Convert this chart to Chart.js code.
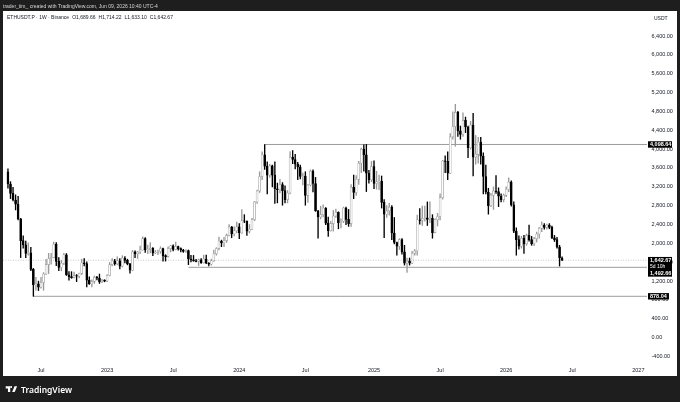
<!DOCTYPE html>
<html>
<head>
<meta charset="utf-8">
<script src="https://cdn.jsdelivr.net/npm/chart.js@4.4.1/dist/chart.umd.min.js"></script>
<style>
  html, body { margin: 0; padding: 0; background: #1e1e1e; }
  #wrap { position: relative; width: 680px; height: 402px; overflow: hidden; }
  #chart { position: absolute; left: 0; top: 0; }
  .txt { position: absolute; white-space: nowrap; font-family: "Liberation Sans", Arial, sans-serif; }
  #title { left: 3px; top: 3px; font-size: 5px; color: #d6d6d6; }
  #legend { left: 7px; top: 14px; font-size: 5px; color: #131722; }
  #legend span { margin-left: 3px; }
  #unit { left: 654px; top: 15px; font-size: 5px; color: #131722; }
  #logo { left: 5px; top: 384px; font-size: 8.5px; color: #ffffff; font-family: "Noto Sans", sans-serif; font-weight: 600; display: flex; align-items: center; }
  #logo svg { margin-right: 3px; }
</style>
</head>
<body>
<div id="wrap">
  <canvas id="chart" width="680" height="402"></canvas>
  <div class="txt" id="title">trader_tim_ created with TradingView.com, Jun 09, 2026 10:40 UTC-4</div>
  <div class="txt" id="legend">ETHUSDT.P · 1W · Binance<span>O1,689.66</span><span>H1,714.22</span><span>L1,633.10</span><span>C1,642.67</span></div>
  <div class="txt" id="unit">USDT</div>
  <div class="txt" id="logo"><svg width="13" height="9" viewBox="0 0 36 28"><path d="M14 22H7V11H0V4h14v18zM28 22h-8l7.5-18h8L28 22zM20 6a3 3 0 1 1-6 0 3 3 0 0 1 6 0z" fill="#fff"/></svg>TradingView</div>
</div>
<script>
// weekly candles, index 0 = week of 2022-04-04
const opens = [
  3521,3260,3060,2920,2830,2520,2060,1970,1790,1800,
  1450,1125,1140,1070,1170,1350,1550,1680,1700,1980,
  1620,1490,1580,1760,1335,1295,1275,1315,1305,1365,
  1590,1570,1220,1140,1195,1280,1265,1185,1220,1200,
  1320,1550,1630,1570,1630,1515,1690,1640,1565,1430,
  1820,1780,1820,1860,2100,1865,1870,1900,1800,1810,
  1830,1890,1740,1720,1890,1950,1870,1935,1890,1860,
  1830,1850,1670,1650,1630,1620,1650,1590,1670,1580,
  1560,1630,1780,1890,2050,2010,2060,2170,2350,2200,
  2270,2350,2220,2480,2470,2260,2300,2500,2880,3110,
  3420,3880,3640,3450,3645,3450,3160,3140,3250,3120,
  2930,3070,3830,3780,3680,3620,3420,3430,3020,3240,
  3530,3270,2690,2560,2610,2750,2430,2270,2420,2580,
  2660,2440,2470,2750,2510,2420,3190,3080,3360,3700,
  4000,3880,3490,3350,3630,3270,3310,3320,2870,2620,
  2690,2770,2220,2020,1940,2080,1820,1580,1620,1580,
  1790,1840,2500,2490,2530,2540,2510,2530,2230,2500,
  2570,2970,3750,3740,3490,4260,4480,4780,4390,4310,
  4610,4470,4030,4510,3830,3890,4150,3850,3420,3090,
  2800,3020,3110,3100,3000,2930,3020,3150,3300,2820,
  2260,2080,1940,2110,1990,2170,2080,1990,2100,2200,
  2320,2390,2340,2390,2340,2120,2080,1920,1689.66
];
const highs = [
  3580,3310,3190,3030,3000,2530,2160,2050,2010,1915,
  1470,1280,1200,1280,1380,1660,1790,1790,2030,2020,
  1700,1640,1790,1785,1400,1400,1390,1340,1370,1665,
  1680,1610,1290,1230,1310,1300,1350,1240,1230,1340,
  1600,1680,1660,1715,1680,1740,1720,1665,1580,1850,
  1840,1830,1945,2140,2125,1965,2015,1910,1850,1860,
  1930,1900,1760,1930,1960,1970,2030,1945,1905,1875,
  1870,1860,1745,1745,1660,1670,1680,1750,1750,1595,
  1665,1860,1910,2135,2070,2130,2200,2400,2360,2350,
  2450,2420,2720,2610,2480,2400,2530,2890,3130,3520,
  3940,4098.64,3730,3680,3660,3730,3280,3360,3290,3220,
  3120,3950,3970,3890,3720,3660,3490,3520,3250,3560,
  3560,3400,2700,2790,2820,2760,2560,2470,2700,2730,
  2670,2520,2770,2770,2720,3250,3450,3440,3740,4020,
  4090,4100,3550,3740,3750,3530,3450,3430,2930,2800,
  2850,2800,2550,2030,2100,2100,1960,1690,1690,1830,
  1870,2600,2740,2790,2790,2880,2880,2610,2520,2640,
  3050,3760,3860,3940,4330,4790,4950,4800,4490,4770,
  4680,4490,4590,4760,4290,4250,4250,3920,3660,3170,
  3060,3200,3440,3180,3050,3050,3200,3390,3330,2880,
  2330,2160,2150,2170,2200,2390,2150,2130,2240,2340,
  2460,2420,2410,2420,2370,2170,2130,1960,1714.22
];
const lows = [
  3170,2950,2900,2710,2500,1700,1900,1700,1750,1420,
  878.04,1010,1000,1050,1005,1340,1360,1560,1690,1530,
  1420,1420,1550,1320,1220,1260,1270,1190,1270,1340,
  1525,1075,1130,1075,1150,1225,1150,1165,1185,1190,
  1310,1520,1540,1550,1460,1500,1585,1545,1370,1420,
  1700,1680,1780,1855,1810,1780,1800,1740,1780,1760,
  1790,1625,1625,1710,1820,1840,1860,1855,1820,1810,
  1810,1550,1610,1620,1605,1530,1575,1580,1570,1520,
  1540,1620,1750,1860,1930,1930,2020,2160,2120,2160,
  2220,2100,2210,2440,2170,2220,2290,2480,2850,3080,
  3350,3570,3050,3400,3200,2850,2860,3070,2810,2860,
  2860,3050,3690,3580,3350,3370,3240,2810,2870,3220,
  3090,2680,2110,2520,2560,2400,2150,2260,2260,2550,
  2310,2330,2440,2400,2360,2360,2950,3020,3250,3500,
  3530,3100,3280,3310,3160,3150,3140,2750,2120,2550,
  2600,2080,1990,1750,1870,1770,1540,1385,1540,1570,
  1750,1750,2410,2380,2470,2380,2440,2110,2220,2370,
  2500,2940,3500,3350,3480,4210,4060,4270,4210,4270,
  4350,3820,4000,3430,3680,3700,3680,3050,3050,2620,
  2780,2720,3060,2780,2880,2880,2990,3100,2790,2230,
  1750,1880,1900,1790,1960,2050,1960,1950,2030,2110,
  2250,2300,2300,2310,2100,2040,1900,1520,1633.10
];
const closes = [
  3260,3060,2920,2830,2520,2060,1970,1790,1800,1450,
  1125,1140,1070,1170,1350,1550,1680,1700,1980,1620,
  1490,1580,1760,1335,1295,1275,1315,1305,1365,1590,
  1570,1220,1140,1195,1280,1265,1185,1220,1200,1320,
  1550,1630,1570,1630,1515,1690,1640,1565,1430,1820,
  1780,1820,1860,2100,1865,1870,1900,1800,1810,1830,
  1890,1740,1720,1890,1950,1870,1935,1890,1860,1830,
  1850,1670,1650,1630,1620,1650,1590,1670,1580,1560,
  1630,1780,1890,2050,2010,2060,2170,2350,2200,2270,
  2350,2220,2480,2470,2260,2300,2500,2880,3110,3420,
  3880,3640,3450,3645,3450,3160,3140,3250,3120,2930,
  3070,3830,3780,3680,3620,3420,3430,3020,3240,3530,
  3270,2690,2560,2610,2750,2430,2270,2420,2580,2660,
  2440,2470,2750,2510,2420,3190,3080,3360,3700,4000,
  3880,3490,3350,3630,3270,3310,3320,2870,2620,2690,
  2770,2220,2020,1940,2080,1820,1580,1620,1580,1790,
  1840,2500,2490,2530,2540,2510,2530,2230,2500,2570,
  2970,3750,3740,3490,4260,4480,4780,4390,4310,4610,
  4470,4030,4510,3830,3890,4150,3850,3420,3090,2800,
  3020,3110,3100,3000,2930,3020,3150,3300,2820,2260,
  2080,1940,2110,1990,2170,2080,1990,2100,2200,2320,
  2390,2340,2390,2340,2120,2080,1920,1689.66,1642.67
];

// horizontal rays drawn on the chart: price and the week they start
const levelPrices = [4098.64, 1492.66, 878.04];
const levelStartWeek = [101, 71, 10];
const countdown = "5d 10h";

// axis ticks
const xTickWeeks = [13, 39, 65, 91, 117, 144, 170, 196, 222, 248];
const xTickLabels = ["Jul", "2023", "Jul", "2024", "Jul", "2025", "Jul", "2026", "Jul", "2027"];
const yTicks = [-400, 0, 400, 800, 1200, 1600, 2000, 2400, 2800, 3200, 3600, 4000, 4400, 4800, 5200, 5600, 6000, 6400];

const X_MIN = -1.95, X_MAX = 251.4;
const Y_MIN = -558, Y_MAX = 6930;

const UP_FILL = "#ffffff", UP_LINE = "#9a9a9a", DOWN = "#000000";
const lastClose = closes[closes.length - 1];
const fmt = v => v.toLocaleString("en-US", { minimumFractionDigits: 2, maximumFractionDigits: 2 });

const isUp = closes.map((c, i) => c >= opens[i]);

const levelSets = levelPrices.map((p, k) => ({
  type: "line",
  data: [{ x: levelStartWeek[k], y: p }, { x: X_MAX, y: p }],
  borderColor: "#9c9c9c",
  borderWidth: 1,
  pointRadius: 0,
  order: 3
}));

// background frame + white panel
const framePlugin = {
  id: "frame",
  beforeDraw(chart) {
    const ctx = chart.ctx;
    ctx.save();
    ctx.fillStyle = "#1e1e1e";
    ctx.fillRect(0, 0, chart.width, chart.height);
    ctx.fillStyle = "#ffffff";
    ctx.fillRect(3, 11, 674, 365);
    ctx.restore();
  }
};

// price tags on the right axis
const tagPlugin = {
  id: "tags",
  afterDraw(chart) {
    const ctx = chart.ctx;
    const y = chart.scales.y;
    const left = chart.chartArea.right + 1;
    ctx.save();
    ctx.textBaseline = "middle";
    ctx.textAlign = "left";

    const tag = (price, w) => {
      const py = y.getPixelForValue(price);
      ctx.fillStyle = "#000";
      ctx.fillRect(left, py - 3.2, w, 6.4);
      ctx.fillStyle = "#fff";
      ctx.font = "bold 5.5px 'Liberation Sans', Arial, sans-serif";
      ctx.fillText(fmt(price), left + 2, py + 0.2);
    };
    tag(levelPrices[0], 24);
    tag(levelPrices[2], 21);

    // last price + countdown + nearby level stacked in one tag
    const py = y.getPixelForValue(lastClose);
    ctx.fillStyle = "#000";
    ctx.fillRect(left, py - 3.3, 24, 19.7);
    ctx.fillStyle = "#fff";
    ctx.font = "bold 5.5px 'Liberation Sans', Arial, sans-serif";
    ctx.fillText(fmt(lastClose), left + 2, py + 0.2);
    ctx.font = "5px 'Liberation Sans', Arial, sans-serif";
    ctx.fillText(countdown, left + 2, py + 6);
    ctx.font = "bold 5.5px 'Liberation Sans', Arial, sans-serif";
    ctx.fillText(fmt(levelPrices[1]), left + 2, py + 13);
    ctx.restore();
  }
};

new Chart(document.getElementById("chart"), {
  data: {
    datasets: [
      {
        type: "bar",
        data: opens.map((o, i) => ({ x: i, y: [o, closes[i]] })),
        backgroundColor: isUp.map(u => (u ? UP_FILL : DOWN)),
        borderColor: isUp.map(u => (u ? UP_LINE : DOWN)),
        borderWidth: 0.6,
        borderSkipped: false,
        barThickness: 2,
        grouped: false,
        order: 0
      },
      {
        type: "bar",
        data: lows.map((l, i) => ({ x: i, y: [l, highs[i]] })),
        backgroundColor: isUp.map(u => (u ? UP_LINE : DOWN)),
        barThickness: 0.7,
        grouped: false,
        order: 1
      },
      ...levelSets,
      {
        type: "line",
        data: [{ x: X_MIN, y: lastClose }, { x: X_MAX, y: lastClose }],
        borderColor: "#b5b5b5",
        borderWidth: 0.7,
        borderDash: [1, 1.5],
        pointRadius: 0,
        order: 4
      }
    ]
  },
  options: {
    responsive: false,
    animation: false,
    layout: { padding: { left: 3, top: 11, right: 3, bottom: 26 } },
    plugins: { legend: { display: false }, tooltip: { enabled: false } },
    scales: {
      x: {
        type: "linear",
        min: X_MIN,
        max: X_MAX,
        offset: false,
        grid: { display: false, drawTicks: false },
        border: { display: false },
        afterFit: s => { s.height = 12; },
        afterBuildTicks: s => { s.ticks = xTickWeeks.map(v => ({ value: v })); },
        ticks: {
          autoSkip: false,
          maxRotation: 0,
          padding: 3,
          color: "#131722",
          font: { size: 5.5, family: "'Liberation Sans', Arial, sans-serif" },
          callback: v => xTickLabels[xTickWeeks.indexOf(v)]
        }
      },
      y: {
        position: "right",
        min: Y_MIN,
        max: Y_MAX,
        grid: { display: false, drawTicks: false },
        border: { display: false },
        afterFit: s => { s.width = 30; },
        afterBuildTicks: s => { s.ticks = yTicks.map(v => ({ value: v })); },
        ticks: {
          autoSkip: false,
          padding: 4.5,
          color: "#131722",
          font: { size: 5.5, family: "'Liberation Sans', Arial, sans-serif" },
          callback: v => fmt(v)
        }
      }
    }
  },
  plugins: [framePlugin, tagPlugin]
});
</script>
</body>
</html>
